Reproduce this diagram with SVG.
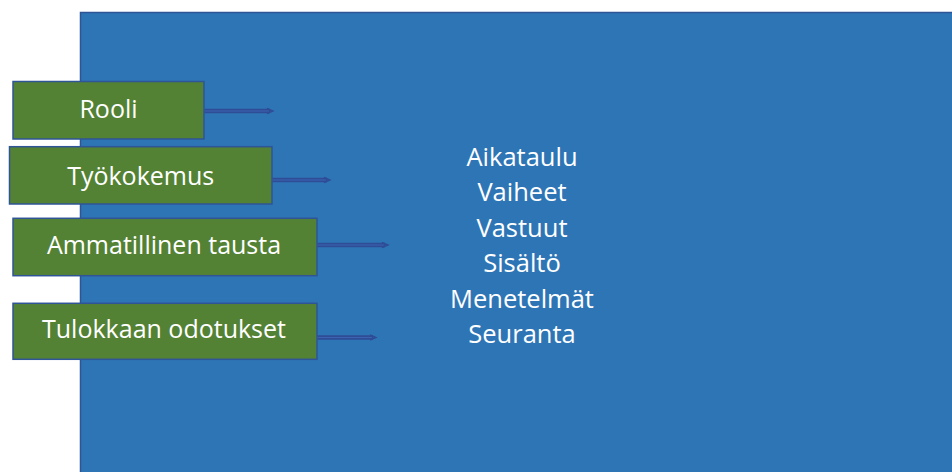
<svg xmlns="http://www.w3.org/2000/svg" width="952" height="472" viewBox="0 0 952 472">
<defs>
<style>
.bg{fill:#2E75B6;stroke:#2F5597;stroke-width:1.5}
.box{fill:#548235;stroke:#2F5597;stroke-width:1.5}
.lbl{font-family:"Open Sans","Liberation Sans",sans-serif;font-size:25px;fill:#FFFFFF;text-anchor:middle}
.list{font-family:"Open Sans","Liberation Sans",sans-serif;font-size:25.5px;fill:#FFFFFF;text-anchor:middle}
.shaft{stroke:#2F4C96;stroke-width:4.5;fill:none}
.core{stroke:#3A64B0;stroke-width:1.2;fill:none}
.head{fill:none;stroke:#2F4C96;stroke-width:1.8}
</style>
</defs>
<rect width="952" height="472" fill="#FFFFFF"/>
<g id="main">
<rect class="bg" x="80.5" y="12.5" width="880" height="470"/>
<text class="list" x="522" y="166">Aikataulu</text>
<text class="list" x="522" y="201.4">Vaiheet</text>
<text class="list" x="522" y="236.8">Vastuut</text>
<text class="list" x="522" y="272.2">Sisältö</text>
<text class="list" x="522" y="307.6">Menetelmät</text>
<text class="list" x="522" y="343">Seuranta</text>
</g>
<g id="connectors">
<line class="shaft" x1="204" y1="111" x2="270" y2="111"/><line class="core" x1="204" y1="111" x2="269" y2="111"/><path class="head" d="M267 108.5 L272.5 111 L267 113.5"/>
<line class="shaft" x1="272" y1="180" x2="327" y2="180"/><line class="core" x1="272" y1="180" x2="326" y2="180"/><path class="head" d="M324 177.5 L329.5 180 L324 182.5"/>
<line class="shaft" x1="317" y1="245" x2="385" y2="245"/><line class="core" x1="317" y1="245" x2="384" y2="245"/><path class="head" d="M382 242.5 L387.5 245 L382 247.5"/>
<line class="shaft" x1="317" y1="337.5" x2="373" y2="337.5"/><line class="core" x1="317" y1="337.5" x2="372" y2="337.5"/><path class="head" d="M370 335 L375.5 337.5 L370 340"/>
</g>
<g id="rooli">
<rect class="box" x="13" y="81.5" width="191" height="57.5"/>
<text class="lbl" x="108.5" y="118.3">Rooli</text>
</g>
<g id="tyokokemus">
<rect class="box" x="9.5" y="146.7" width="262.5" height="57.3"/>
<text class="lbl" x="140.7" y="185">Työkokemus</text>
</g>
<g id="ammatillinen">
<rect class="box" x="13" y="218.3" width="304" height="57.4"/>
<text class="lbl" x="164" y="254.3">Ammatillinen tausta</text>
</g>
<g id="tulokkaan">
<rect class="box" x="13" y="303.3" width="304" height="56"/>
<text class="lbl" x="164" y="338.3">Tulokkaan odotukset</text>
</g>
</svg>
